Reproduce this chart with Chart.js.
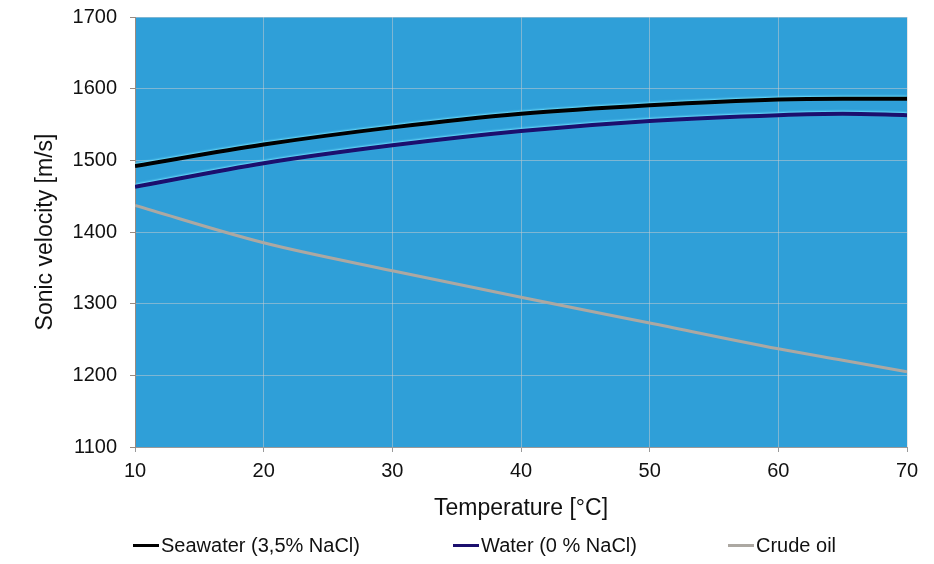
<!DOCTYPE html>
<html>
<head>
<meta charset="utf-8">
<script src="https://cdn.jsdelivr.net/npm/chart.js@4/dist/chart.umd.min.js"></script>
<style>
    html, body { margin: 0; padding: 0; background: #fff; }
    #wrap { position: relative; width: 934px; height: 564px; }
    #chart { position: absolute; left: 0; top: 0; }
    .legend-item {
        position: absolute;
        top: 533px;
        font-family: "Liberation Sans", Arial, sans-serif;
        font-size: 20px;
        color: #111;
        white-space: nowrap;
        line-height: 24px;
    }
    .legend-item span.swatch {
        display: inline-block;
        width: 26px;
        height: 3px;
        vertical-align: middle;
        margin-right: 2px;
        position: relative;
        top: -1px;
    }
</style>
</head>
<body>
<div id="wrap">
    <canvas id="chart" width="934" height="564"></canvas>
    <div id="legend"></div>
</div>
<script>
// temperatures in °C
const temperatures = [10, 20, 30, 40, 50, 60, 65, 70];

// sonic velocity in m/s
const seawater = [1492, 1522, 1546, 1565, 1577, 1585, 1586, 1586];
const water = [1463, 1496, 1521, 1541, 1555, 1563, 1565, 1563];
const crudeOil = [1437, 1385, 1346, 1309, 1273, 1237, 1221, 1205];

const seriesNames = ["Seawater (3,5% NaCl)", "Water (0 % NaCl)", "Crude oil"];
const seriesColors = ["#000000", "#1b0f6e", "#aca8a2"];

const yTicks = [1100, 1200, 1300, 1400, 1500, 1600, 1700];
const xTicks = [10, 20, 30, 40, 50, 60, 70];

const FONT = "Liberation Sans, Arial, sans-serif";

function toPoints(values) {
    return temperatures.map((t, i) => ({ x: t, y: values[i] }));
}

const plotBackground = {
    id: "plotBackground",
    beforeDraw(chart) {
        const { ctx, chartArea } = chart;
        ctx.save();
        ctx.fillStyle = "#2f9fd8";
        ctx.fillRect(chartArea.left, chartArea.top, chartArea.right - chartArea.left, chartArea.bottom - chartArea.top);
        ctx.restore();
    }
};

// thin light cyan halo round the two water lines
const lineHalo = {
    id: "lineHalo",
    beforeDatasetDraw(chart, args) {
        const ctx = chart.ctx;
        ctx.save();
        if (args.index < 2) {
            ctx.shadowColor = "rgba(110, 225, 255, 0.95)";
            ctx.shadowBlur = 2;
            ctx.shadowOffsetY = -1;
        }
    },
    afterDatasetDraw(chart) {
        chart.ctx.restore();
    }
};

const datasets = [seawater, water, crudeOil].map((values, i) => ({
    label: seriesNames[i],
    data: toPoints(values),
    borderColor: seriesColors[i],
    borderWidth: i === 2 ? 3 : 4,
    pointRadius: 0,
    cubicInterpolationMode: "monotone",
    fill: false
}));

new Chart(document.getElementById("chart"), {
    type: "line",
    data: { datasets: datasets },
    options: {
        responsive: false,
        animation: false,
        layout: { padding: { top: 17, right: 27, bottom: 40, left: 0 } },
        plugins: {
            legend: { display: false },
            tooltip: { enabled: false }
        },
        scales: {
            x: {
                type: "linear",
                min: 10,
                max: 70,
                afterBuildTicks(scale) {
                    scale.ticks = xTicks.map(v => ({ value: v }));
                },
                afterFit(scale) {
                    scale.height = 77;
                    scale.paddingLeft = 0;
                    scale.paddingRight = 0;
                },
                grid: {
                    color: "rgba(205, 205, 205, 0.5)",
                    lineWidth: 1,
                    tickLength: 5,
                    tickColor: "#9a9a9a"
                },
                border: { color: "#9a9a9a" },
                ticks: {
                    padding: 7,
                    color: "#111",
                    font: { family: FONT, size: 20 },
                    callback: v => String(v)
                },
                title: {
                    display: true,
                    text: "Temperature [°C]",
                    color: "#111",
                    font: { family: FONT, size: 23 },
                    padding: { top: 0, bottom: 2 }
                }
            },
            y: {
                type: "linear",
                min: 1100,
                max: 1700,
                afterBuildTicks(scale) {
                    scale.ticks = yTicks.map(v => ({ value: v }));
                },
                afterFit(scale) {
                    scale.width = 135;
                    scale.paddingTop = 0;
                    scale.paddingBottom = 0;
                },
                grid: {
                    color: "rgba(205, 205, 205, 0.5)",
                    lineWidth: 1,
                    tickLength: 5,
                    tickColor: "#9a8a80"
                },
                border: { color: "#9a8a80" },
                ticks: {
                    padding: 13,
                    color: "#111",
                    font: { family: FONT, size: 20 },
                    callback: v => String(v)
                },
                title: {
                    display: true,
                    text: "Sonic velocity [m/s]",
                    color: "#111",
                    font: { family: FONT, size: 23 },
                    padding: { top: 32, bottom: 0 }
                }
            }
        }
    },
    plugins: [plotBackground, lineHalo]
});

// legend laid out like the original, one entry per series
const legendLeft = [133, 453, 728];
const legend = document.getElementById("legend");
seriesNames.forEach((name, i) => {
    const item = document.createElement("div");
    item.className = "legend-item";
    item.style.left = legendLeft[i] + "px";
    const sw = document.createElement("span");
    sw.className = "swatch";
    sw.style.background = seriesColors[i];
    item.appendChild(sw);
    item.appendChild(document.createTextNode(name));
    legend.appendChild(item);
});
</script>
</body>
</html>
